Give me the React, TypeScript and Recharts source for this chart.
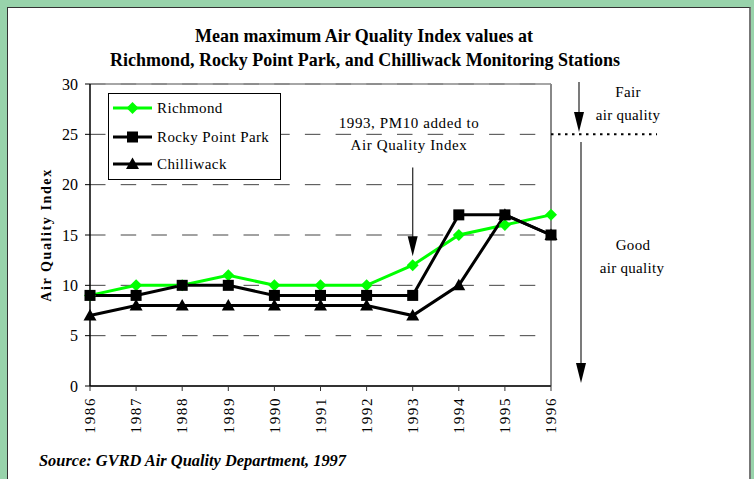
import React from 'react';
import {
  LineChart,
  Line,
  XAxis,
  YAxis,
  CartesianGrid,
  ReferenceLine,
  Legend
} from 'recharts';

// values
const years = [1986, 1987, 1988, 1989, 1990, 1991, 1992, 1993, 1994, 1995, 1996];
const richmond = [9, 10, 10, 11, 10, 10, 10, 12, 15, 16, 17];
const rockyPoint = [9, 9, 10, 10, 9, 9, 9, 9, 17, 17, 15];
const chilliwack = [7, 8, 8, 8, 8, 8, 8, 7, 10, 17, 15];
const yTicks = [0, 5, 10, 15, 20, 25, 30];

const titleLines = [
  'Mean maximum Air Quality Index values at',
  'Richmond, Rocky Point Park, and Chilliwack Monitoring Stations'
];
const noteLines = ['1993, PM10 added to', 'Air Quality Index'];
const fairLines = ['Fair', 'air quality'];
const goodLines = ['Good', 'air quality'];
const sourceText = 'Source:  GVRD Air Quality Department, 1997';
const yLabel = 'Air Quality Index';

const FONT = "'Liberation Serif', 'Times New Roman', serif";
const GREEN = '#00ff00';

type Marker = 'diamond' | 'square' | 'triangle';

const seriesList: { key: string; name: string; color: string; marker: Marker }[] = [
  { key: 'richmond', name: 'Richmond', color: GREEN, marker: 'diamond' },
  { key: 'rockyPoint', name: 'Rocky Point Park', color: '#000', marker: 'square' },
  { key: 'chilliwack', name: 'Chilliwack', color: '#000', marker: 'triangle' }
];

const data = years.map((year, i) => ({
  year,
  richmond: richmond[i],
  rockyPoint: rockyPoint[i],
  chilliwack: chilliwack[i]
}));

const drawMarker = (kind: Marker, cx: number, cy: number, color: string, key?: string | number) => {
  if (kind === 'diamond') {
    return (
      <polygon
        key={key}
        points={`${cx},${cy - 6} ${cx + 6},${cy} ${cx},${cy + 6} ${cx - 6},${cy}`}
        fill={color}
      />
    );
  }
  if (kind === 'square') {
    return <rect key={key} x={cx - 5.5} y={cy - 5.5} width={11} height={11} fill={color} />;
  }
  return (
    <polygon
      key={key}
      points={`${cx},${cy - 6.5} ${cx + 6.5},${cy + 5} ${cx - 6.5},${cy + 5}`}
      fill={color}
    />
  );
};

const makeDot = (kind: Marker, color: string) => (props: any) => {
  const { cx, cy, index } = props;
  if (cx == null || cy == null) return <g key={index} />;
  return drawMarker(kind, cx, cy, color, index);
};

const XTick = (props: any) => {
  const { x, y, payload } = props;
  return (
    <text
      x={x}
      y={y}
      transform={`rotate(-90, ${x}, ${y})`}
      textAnchor="end"
      dy="0.35em"
      fontSize={15}
      letterSpacing={1.6}
      fontFamily={FONT}
      fill="#000"
    >
      {payload.value}
    </text>
  );
};

const YLabel = (props: any) => {
  const { viewBox } = props;
  const cx = viewBox.x + 6;
  const cy = viewBox.y + viewBox.height / 2;
  return (
    <text
      x={cx}
      y={cy}
      transform={`rotate(-90, ${cx}, ${cy})`}
      textAnchor="middle"
      dy="0.35em"
      fontSize={14}
      fontWeight="bold"
      letterSpacing={1.6}
      fontFamily={FONT}
      fill="#000"
    >
      {yLabel}
    </text>
  );
};

const LegendBox = () => (
  <div
    style={{
      width: 173,
      height: 87,
      border: '1px solid #000',
      background: '#fff',
      boxSizing: 'border-box'
    }}
  >
    <svg width={171} height={85}>
      {seriesList.map((s, i) => {
        const cy = [14, 43, 70][i];
        return (
          <g key={s.key}>
            <line x1={4} x2={43} y1={cy} y2={cy} stroke={s.color} strokeWidth={3} />
            {drawMarker(s.marker, 23.5, cy, s.color)}
            <text
              x={48}
              y={cy}
              dy="0.35em"
              fontSize={15}
              letterSpacing={0.4}
              fontFamily={FONT}
              fill="#000"
            >
              {s.name}
            </text>
          </g>
        );
      })}
    </svg>
  </div>
);

// arrow drawn along a reference segment, head at the second point
const ArrowShape = (props: any) => {
  const { x1, y1, x2, y2 } = props;
  if (x1 == null) return null;
  return (
    <g>
      <line x1={x1} y1={y1} x2={x2} y2={y2 - 18} stroke="#333" strokeWidth={1.3} />
      <polygon points={`${x2 - 5},${y2 - 20} ${x2 + 5},${y2 - 20} ${x2},${y2}`} fill="#000" />
    </g>
  );
};

const DownArrow = ({ x, top, tip }: { x: number; top: number; tip: number }) => (
  <g>
    <line x1={x} y1={top} x2={x} y2={tip - 18} stroke="#333" strokeWidth={1.3} />
    <polygon points={`${x - 5},${tip - 20} ${x + 5},${tip - 20} ${x},${tip}`} fill="#000" />
  </g>
);

const App: React.FC = () => {
  return (
    <div
      style={{
        position: 'absolute',
        left: 0,
        top: 0,
        width: 754,
        height: 479,
        background: '#98d3ab',
        overflow: 'hidden',
        fontFamily: FONT
      }}
    >
      {/* white panel */}
      <div
        style={{
          position: 'absolute',
          left: 7,
          top: 7,
          width: 741,
          height: 480,
          background: '#fff',
          borderLeft: '1px solid #333',
          borderTop: '1px solid #333',
          borderRight: '2px solid #777'
        }}
      />

      <LineChart
        width={754}
        height={479}
        data={data}
        margin={{ top: 84, right: 203, left: 40, bottom: 33 }}
        style={{ position: 'absolute', left: 0, top: 0 }}
      >
        <CartesianGrid vertical={false} stroke="#444" strokeDasharray="15.5 15.2" />
        <XAxis
          dataKey="year"
          type="number"
          domain={[1986, 1996]}
          ticks={years}
          interval={0}
          height={60}
          tickSize={5}
          tickMargin={6}
          tick={<XTick />}
          axisLine={{ stroke: '#333', strokeWidth: 2 }}
          tickLine={{ stroke: '#333' }}
        />
        <YAxis
          type="number"
          domain={[0, 30]}
          ticks={yTicks}
          interval={0}
          width={50}
          tickSize={5}
          tickMargin={7}
          tick={{ fontSize: 16, fill: '#000', fontFamily: FONT }}
          axisLine={{ stroke: '#000', strokeWidth: 1.5 }}
          tickLine={{ stroke: '#000' }}
          label={<YLabel />}
        />
        <ReferenceLine y={30} stroke="#888" strokeWidth={1.5} />
        <ReferenceLine x={1996} stroke="#888" strokeWidth={2} />
        <ReferenceLine
          segment={[{ x: 1993, y: 21.7 }, { x: 1993, y: 12.9 }]}
          shape={<ArrowShape />}
        />
        <ReferenceLine
          segment={[{ x: 1996, y: 25 }, { x: 1998.3, y: 25 }]}
          ifOverflow="visible"
          stroke="#000"
          strokeWidth={2}
          strokeDasharray="2.5 4.5"
        />
        <Legend
          layout="vertical"
          align="center"
          verticalAlign="middle"
          wrapperStyle={{ left: 108, top: 93, width: 173, height: 87 }}
          content={<LegendBox />}
        />
        <Line
          dataKey="richmond"
          name="Richmond"
          stroke={GREEN}
          strokeWidth={3}
          dot={makeDot('diamond', GREEN)}
          isAnimationActive={false}
        />
        <Line
          dataKey="chilliwack"
          name="Chilliwack"
          stroke="#000"
          strokeWidth={3}
          dot={makeDot('triangle', '#000')}
          isAnimationActive={false}
        />
        <Line
          dataKey="rockyPoint"
          name="Rocky Point Park"
          stroke="#000"
          strokeWidth={3}
          dot={makeDot('square', '#000')}
          isAnimationActive={false}
        />
      </LineChart>

      {/* titles and annotations */}
      <svg
        width={754}
        height={479}
        style={{ position: 'absolute', left: 0, top: 0, pointerEvents: 'none' }}
      >
        <text
          x={364}
          y={42}
          textAnchor="middle"
          fontSize={19}
          fontWeight="bold"
          textLength={338}
          lengthAdjust="spacingAndGlyphs"
          fontFamily={FONT}
        >
          {titleLines[0]}
        </text>
        <text
          x={365}
          y={66}
          textAnchor="middle"
          fontSize={19}
          fontWeight="bold"
          textLength={510}
          lengthAdjust="spacingAndGlyphs"
          fontFamily={FONT}
        >
          {titleLines[1]}
        </text>

        <text x={409} y={128} textAnchor="middle" fontSize={15} letterSpacing={0.6} fontFamily={FONT}>
          {noteLines[0]}
        </text>
        <text x={409} y={150} textAnchor="middle" fontSize={15} letterSpacing={0.6} fontFamily={FONT}>
          {noteLines[1]}
        </text>

        <text x={628} y={97} textAnchor="middle" fontSize={15} letterSpacing={0.3} fontFamily={FONT}>
          {fairLines[0]}
        </text>
        <text x={628} y={120} textAnchor="middle" fontSize={15} letterSpacing={0.3} fontFamily={FONT}>
          {fairLines[1]}
        </text>
        <text x={633} y={250} textAnchor="middle" fontSize={15} letterSpacing={0.3} fontFamily={FONT}>
          {goodLines[0]}
        </text>
        <text x={632} y={273} textAnchor="middle" fontSize={15} letterSpacing={0.3} fontFamily={FONT}>
          {goodLines[1]}
        </text>

        <DownArrow x={579} top={82} tip={132} />
        <DownArrow x={581} top={142} tip={383} />

        <text
          x={39}
          y={466}
          fontSize={16}
          fontWeight="bold"
          fontStyle="italic"
          textLength={307}
          lengthAdjust="spacingAndGlyphs"
          fontFamily={FONT}
        >
          {sourceText}
        </text>
      </svg>
    </div>
  );
};

export default App;
